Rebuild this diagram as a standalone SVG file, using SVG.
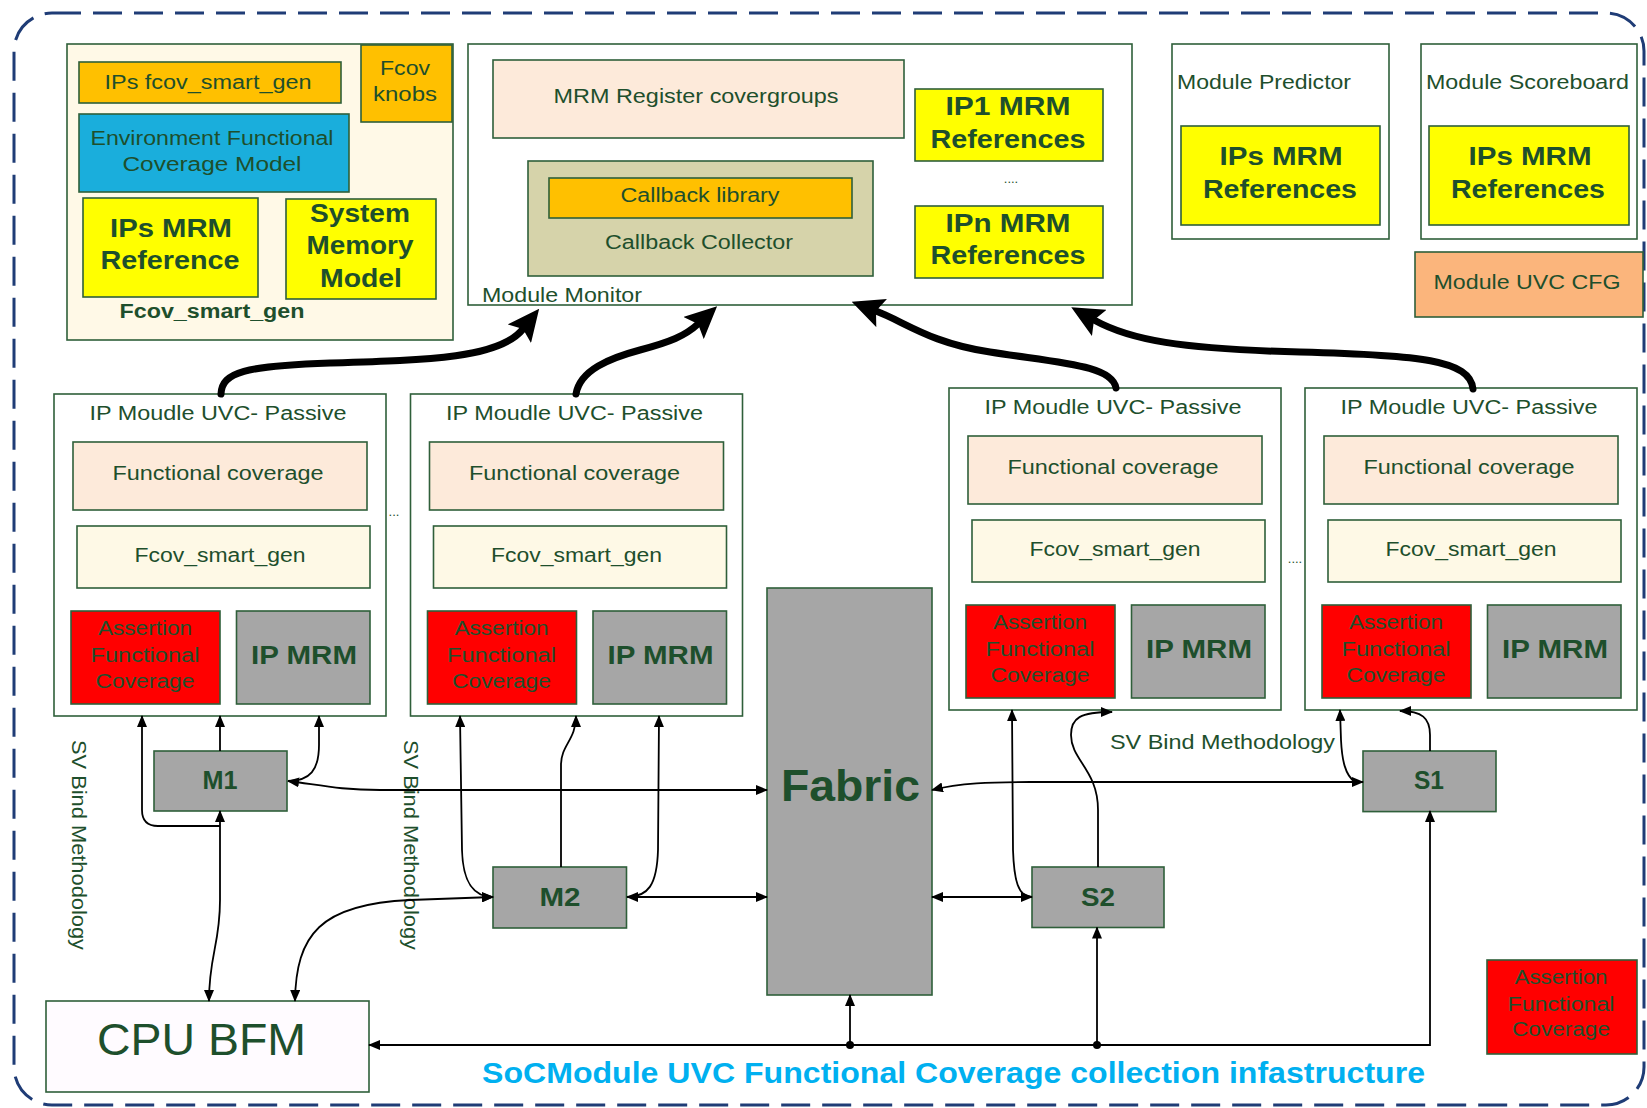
<svg xmlns="http://www.w3.org/2000/svg" width="1647" height="1108" viewBox="0 0 1647 1108">
<style>
.bx{stroke:#2F5F3A;stroke-width:1.6}
.t{font-family:"Liberation Sans",Arial,sans-serif;fill:#1E4F2C;font-size:20px}
.m{text-anchor:middle}
.bd{font-weight:bold}
.big{font-size:26px;font-weight:bold}
.ln{fill:none;stroke:#000;stroke-width:1.8}
.tk{fill:none;stroke:#000;stroke-width:7;stroke-linecap:round}
.wh{fill:#FFFFFF}.or{fill:#FFC000}.ye{fill:#FFFF00}.pe{fill:#FDEADA}.cr{fill:#FEF9E6}.rd{fill:#FF0000}.gr{fill:#A6A6A6}
</style>
<defs>
<marker id="a" viewBox="0 0 12 10" refX="11" refY="5" markerWidth="12" markerHeight="10" orient="auto-start-reverse" markerUnits="userSpaceOnUse"><path d="M0,0 L12,5 L0,10 z" fill="#000"/></marker>
<marker id="big" viewBox="0 0 32 30" refX="6" refY="15" markerWidth="32" markerHeight="30" orient="auto" markerUnits="userSpaceOnUse"><path d="M0,0 L32,15 L0,30 L6,15 z" fill="#000"/></marker>
</defs>
<rect width="1647" height="1108" fill="#FFFFFF"/>
<rect x="14" y="13" width="1630" height="1092" rx="38" fill="none" stroke="#1F3C76" stroke-width="3" stroke-dasharray="29 12"/>

<g id="fcov-container">
<rect class="bx" x="67" y="44" width="386" height="296" fill="#FFF9E7"/>
<rect class="bx or" x="79" y="62" width="262" height="41"/>
<text class="t m" x="208" y="89" textLength="207" lengthAdjust="spacingAndGlyphs">IPs fcov_smart_gen</text>
<rect class="bx or" x="361" y="45" width="91" height="77"/>
<text class="t m" x="405" y="75" textLength="50" lengthAdjust="spacingAndGlyphs">Fcov</text>
<text class="t m" x="405" y="101" textLength="64" lengthAdjust="spacingAndGlyphs">knobs</text>
<rect class="bx" x="79" y="114" width="270" height="78" fill="#1AAEDC"/>
<text class="t m" x="212" y="145" textLength="243" lengthAdjust="spacingAndGlyphs">Environment Functional</text>
<text class="t m" x="212" y="171" textLength="179" lengthAdjust="spacingAndGlyphs">Coverage  Model</text>
<rect class="bx ye" x="83" y="198" width="175" height="99"/>
<text class="t m big" x="171" y="237" textLength="122" lengthAdjust="spacingAndGlyphs">IPs MRM</text>
<text class="t m big" x="170" y="269" textLength="139" lengthAdjust="spacingAndGlyphs">Reference</text>
<rect class="bx ye" x="286" y="199" width="150" height="100"/>
<text class="t m big" x="360" y="222" textLength="100" lengthAdjust="spacingAndGlyphs">System</text>
<text class="t m big" x="360" y="254" textLength="107" lengthAdjust="spacingAndGlyphs">Memory</text>
<text class="t m big" x="361" y="287" textLength="82" lengthAdjust="spacingAndGlyphs">Model</text>
<text class="t m bd" x="212" y="318" textLength="185" lengthAdjust="spacingAndGlyphs">Fcov_smart_gen</text>
</g>

<g id="module-monitor">
<rect class="bx wh" x="468" y="44" width="664" height="261"/>
<rect class="bx pe" x="493" y="60" width="411" height="78"/>
<text class="t m" x="696" y="103" textLength="285" lengthAdjust="spacingAndGlyphs">MRM Register covergroups</text>
<rect class="bx" x="528" y="161" width="345" height="115" fill="#D6D3AA"/>
<rect class="bx or" x="549" y="178" width="303" height="40"/>
<text class="t m" x="700" y="202" textLength="159" lengthAdjust="spacingAndGlyphs">Callback library</text>
<text class="t m" x="699" y="249" textLength="188" lengthAdjust="spacingAndGlyphs">Callback Collector</text>
<rect class="bx ye" x="915" y="89" width="188" height="72"/>
<text class="t m big" x="1008" y="115" textLength="125" lengthAdjust="spacingAndGlyphs">IP1 MRM</text>
<text class="t m big" x="1008" y="148" textLength="155" lengthAdjust="spacingAndGlyphs">References</text>
<text class="t m" x="1011" y="183" style="font-size:13px">....</text>
<rect class="bx ye" x="915" y="206" width="188" height="72"/>
<text class="t m big" x="1008" y="232" textLength="125" lengthAdjust="spacingAndGlyphs">IPn MRM</text>
<text class="t m big" x="1008" y="264" textLength="155" lengthAdjust="spacingAndGlyphs">References</text>
<text class="t" x="482" y="302" textLength="160" lengthAdjust="spacingAndGlyphs">Module Monitor</text>
</g>

<g id="module-predictor">
<rect class="bx wh" x="1172" y="44" width="217" height="195"/>
<text class="t" x="1177" y="89" textLength="174" lengthAdjust="spacingAndGlyphs">Module Predictor</text>
<rect class="bx ye" x="1181" y="126" width="199" height="99"/>
<text class="t m big" x="1281" y="165" textLength="123" lengthAdjust="spacingAndGlyphs">IPs MRM</text>
<text class="t m big" x="1280" y="198" textLength="154" lengthAdjust="spacingAndGlyphs">References</text>
</g>

<g id="module-scoreboard">
<rect class="bx wh" x="1421" y="44" width="216" height="195"/>
<text class="t" x="1426" y="89" textLength="203" lengthAdjust="spacingAndGlyphs">Module Scoreboard</text>
<rect class="bx ye" x="1429" y="126" width="200" height="99"/>
<text class="t m big" x="1530" y="165" textLength="123" lengthAdjust="spacingAndGlyphs">IPs MRM</text>
<text class="t m big" x="1528" y="198" textLength="154" lengthAdjust="spacingAndGlyphs">References</text>
</g>

<g id="module-uvc-cfg">
<rect class="bx" x="1415" y="252" width="228" height="65" fill="#FBB57C"/>
<text class="t m" x="1527" y="289" textLength="187" lengthAdjust="spacingAndGlyphs">Module UVC CFG</text>
</g>

<g id="ip-uvc-1">
<rect class="bx wh" x="54" y="394" width="332" height="322"/>
<text class="t m" x="218" y="420" textLength="257" lengthAdjust="spacingAndGlyphs">IP Moudle UVC- Passive</text>
<rect class="bx pe" x="73" y="442" width="294" height="68"/>
<text class="t m" x="218" y="480" textLength="211" lengthAdjust="spacingAndGlyphs">Functional coverage</text>
<rect class="bx cr" x="77" y="526" width="293" height="62"/>
<text class="t m" x="220" y="562" textLength="171" lengthAdjust="spacingAndGlyphs">Fcov_smart_gen</text>
<rect class="bx rd" x="71" y="611" width="149" height="93"/>
<text class="t m" x="145" y="635" textLength="94" lengthAdjust="spacingAndGlyphs">Assertion</text>
<text class="t m" x="145" y="662" textLength="109" lengthAdjust="spacingAndGlyphs">Functional</text>
<text class="t m" x="145" y="688" textLength="99" lengthAdjust="spacingAndGlyphs">Coverage</text>
<rect class="bx gr" x="236.5" y="611" width="133.5" height="93"/>
<text class="t m big" x="304" y="664" textLength="106" lengthAdjust="spacingAndGlyphs">IP MRM</text>
</g>
<text class="t m" x="394" y="516" style="font-size:13px">...</text>

<g id="ip-uvc-2" transform="translate(356.5,0)">
<rect class="bx wh" x="54" y="394" width="332" height="322"/>
<text class="t m" x="218" y="420" textLength="257" lengthAdjust="spacingAndGlyphs">IP Moudle UVC- Passive</text>
<rect class="bx pe" x="73" y="442" width="294" height="68"/>
<text class="t m" x="218" y="480" textLength="211" lengthAdjust="spacingAndGlyphs">Functional coverage</text>
<rect class="bx cr" x="77" y="526" width="293" height="62"/>
<text class="t m" x="220" y="562" textLength="171" lengthAdjust="spacingAndGlyphs">Fcov_smart_gen</text>
<rect class="bx rd" x="71" y="611" width="149" height="93"/>
<text class="t m" x="145" y="635" textLength="94" lengthAdjust="spacingAndGlyphs">Assertion</text>
<text class="t m" x="145" y="662" textLength="109" lengthAdjust="spacingAndGlyphs">Functional</text>
<text class="t m" x="145" y="688" textLength="99" lengthAdjust="spacingAndGlyphs">Coverage</text>
<rect class="bx gr" x="236.5" y="611" width="133.5" height="93"/>
<text class="t m big" x="304" y="664" textLength="106" lengthAdjust="spacingAndGlyphs">IP MRM</text>
</g>

<g id="ip-uvc-3" transform="translate(895,-6)">
<rect class="bx wh" x="54" y="394" width="332" height="322"/>
<text class="t m" x="218" y="420" textLength="257" lengthAdjust="spacingAndGlyphs">IP Moudle UVC- Passive</text>
<rect class="bx pe" x="73" y="442" width="294" height="68"/>
<text class="t m" x="218" y="480" textLength="211" lengthAdjust="spacingAndGlyphs">Functional coverage</text>
<rect class="bx cr" x="77" y="526" width="293" height="62"/>
<text class="t m" x="220" y="562" textLength="171" lengthAdjust="spacingAndGlyphs">Fcov_smart_gen</text>
<rect class="bx rd" x="71" y="611" width="149" height="93"/>
<text class="t m" x="145" y="635" textLength="94" lengthAdjust="spacingAndGlyphs">Assertion</text>
<text class="t m" x="145" y="662" textLength="109" lengthAdjust="spacingAndGlyphs">Functional</text>
<text class="t m" x="145" y="688" textLength="99" lengthAdjust="spacingAndGlyphs">Coverage</text>
<rect class="bx gr" x="236.5" y="611" width="133.5" height="93"/>
<text class="t m big" x="304" y="664" textLength="106" lengthAdjust="spacingAndGlyphs">IP MRM</text>
</g>
<text class="t m" x="1295" y="563" style="font-size:13px">....</text>

<g id="ip-uvc-4" transform="translate(1251,-6)">
<rect class="bx wh" x="54" y="394" width="332" height="322"/>
<text class="t m" x="218" y="420" textLength="257" lengthAdjust="spacingAndGlyphs">IP Moudle UVC- Passive</text>
<rect class="bx pe" x="73" y="442" width="294" height="68"/>
<text class="t m" x="218" y="480" textLength="211" lengthAdjust="spacingAndGlyphs">Functional coverage</text>
<rect class="bx cr" x="77" y="526" width="293" height="62"/>
<text class="t m" x="220" y="562" textLength="171" lengthAdjust="spacingAndGlyphs">Fcov_smart_gen</text>
<rect class="bx rd" x="71" y="611" width="149" height="93"/>
<text class="t m" x="145" y="635" textLength="94" lengthAdjust="spacingAndGlyphs">Assertion</text>
<text class="t m" x="145" y="662" textLength="109" lengthAdjust="spacingAndGlyphs">Functional</text>
<text class="t m" x="145" y="688" textLength="99" lengthAdjust="spacingAndGlyphs">Coverage</text>
<rect class="bx gr" x="236.5" y="611" width="133.5" height="93"/>
<text class="t m big" x="304" y="664" textLength="106" lengthAdjust="spacingAndGlyphs">IP MRM</text>
</g>

<g id="m1"><rect class="bx gr" x="154" y="751" width="133" height="60"/>
<text class="t m bd" x="220" y="789" style="font-size:25px" textLength="35" lengthAdjust="spacingAndGlyphs">M1</text></g>
<g id="m2"><rect class="bx gr" x="493" y="867" width="133.5" height="61"/>
<text class="t m bd" x="560" y="906" style="font-size:25px" textLength="41" lengthAdjust="spacingAndGlyphs">M2</text></g>
<g id="s2"><rect class="bx gr" x="1032" y="867" width="132" height="60.5"/>
<text class="t m bd" x="1098" y="906" style="font-size:25px" textLength="34" lengthAdjust="spacingAndGlyphs">S2</text></g>
<g id="s1"><rect class="bx gr" x="1363" y="751" width="133" height="60.6"/>
<text class="t m bd" x="1429" y="789" style="font-size:25px" textLength="30" lengthAdjust="spacingAndGlyphs">S1</text></g>
<g id="fabric"><rect class="bx gr" x="767" y="588" width="165" height="407"/>
<text class="t m bd" x="850.5" y="801" style="font-size:44px" textLength="139" lengthAdjust="spacingAndGlyphs">Fabric</text></g>
<g id="cpu-bfm"><rect class="bx" x="46" y="1001" width="323" height="91" fill="#FFFBFF"/>
<text class="t m" x="201.5" y="1055" style="font-size:44px" textLength="209" lengthAdjust="spacingAndGlyphs">CPU BFM</text></g>
<g id="assertion-legend"><rect class="bx rd" x="1487" y="960" width="150" height="94"/>
<text class="t m" x="1561" y="984" textLength="93" lengthAdjust="spacingAndGlyphs">Assertion</text>
<text class="t m" x="1561" y="1011" textLength="107" lengthAdjust="spacingAndGlyphs">Functional</text>
<text class="t m" x="1561" y="1036" textLength="98" lengthAdjust="spacingAndGlyphs">Coverage</text></g>

<g id="labels">
<text class="t" transform="translate(72,740) rotate(90)" style="font-size:21px" textLength="210" lengthAdjust="spacingAndGlyphs">SV Bind Methodology</text>
<text class="t" transform="translate(404,740) rotate(90)" style="font-size:21px" textLength="210" lengthAdjust="spacingAndGlyphs">SV Bind Methodology</text>
<text class="t" x="1110" y="749" style="font-size:21px" textLength="225" lengthAdjust="spacingAndGlyphs">SV Bind Methodology</text>
<text x="482" y="1083" style="font-family:'Liberation Sans',Arial,sans-serif;font-size:29px;font-weight:bold;fill:#00B0F0" textLength="943" lengthAdjust="spacingAndGlyphs">SoCModule UVC Functional Coverage collection infastructure</text>
</g>

<g id="connectors">
<path class="tk" d="M221 394 C222 372,245 366,330 363 C430 360,500 358,523 329" marker-end="url(#big)"/>
<path class="tk" d="M576 394 C580 370,610 358,640 350 C670 342,685 336,698 324" marker-end="url(#big)"/>
<path class="tk" d="M1116 388 C1112 365,1060 363,990 352 C930 343,905 322,876 311" marker-end="url(#big)"/>
<path class="tk" d="M1473 389 C1470 360,1420 355,1300 352 C1180 349,1130 340,1094 320" marker-end="url(#big)"/>

<path class="ln" d="M220 811 L220 900 C220 945,209 955,209 1001" marker-start="url(#a)" marker-end="url(#a)"/>
<path class="ln" d="M220 826 L158 826 Q142 826 142 810 L142 716" marker-end="url(#a)"/>
<path class="ln" d="M220 751 L220 716" marker-end="url(#a)"/>
<path class="ln" d="M288 781 C310 781,319 770,319 745 L319 716" marker-end="url(#a)"/>
<path class="ln" d="M288 781 C320 785,340 790,380 790 L767 790" marker-start="url(#a)" marker-end="url(#a)"/>
<path class="ln" d="M460 716 L462 850 C463 885,475 897,493 897" marker-start="url(#a)" marker-end="url(#a)"/>
<path class="ln" d="M295 1001 C296 935,320 904,410 900 L493 897" marker-start="url(#a)" marker-end="url(#a)"/>
<path class="ln" d="M561 867 L561 765 C561 745,576 740,576 716" marker-end="url(#a)"/>
<path class="ln" d="M627 897 L767 897" marker-start="url(#a)" marker-end="url(#a)"/>
<path class="ln" d="M627 897 C648 897,657 885,658 850 L659 716" marker-end="url(#a)"/>
<path class="ln" d="M932 897 L1032 897" marker-start="url(#a)" marker-end="url(#a)"/>
<path class="ln" d="M1032 897 C1018 897,1014 880,1013 850 L1012 710" marker-end="url(#a)"/>
<path class="ln" d="M1098 867 L1098 810 C1098 770,1071 760,1071 735 C1071 718,1080 712,1112 712" marker-end="url(#a)"/>
<path class="ln" d="M932 790 C960 783,990 782,1030 782 L1363 782" marker-start="url(#a)" marker-end="url(#a)"/>
<path class="ln" d="M1355 782 C1345 775,1342 760,1341 740 L1340 710" marker-end="url(#a)"/>
<path class="ln" d="M1430 751 L1430 735 C1430 718,1422 711,1400 711" marker-end="url(#a)"/>
<path class="ln" d="M369 1045 L1430 1045 L1430 811" marker-start="url(#a)" marker-end="url(#a)"/>
<path class="ln" d="M850 1045 L850 995" marker-end="url(#a)"/>
<path class="ln" d="M1097 1045 L1097 927.5" marker-end="url(#a)"/>
<circle cx="850" cy="1045" r="4" fill="#000"/>
<circle cx="1097" cy="1045" r="4" fill="#000"/>
</g>
</svg>
